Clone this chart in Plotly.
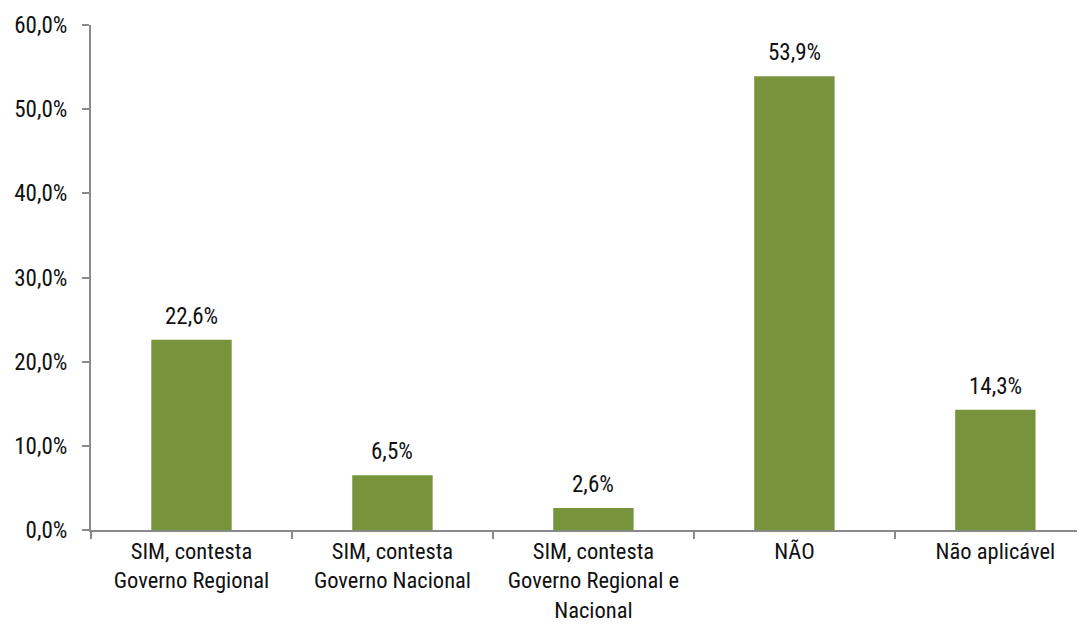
import plotly.graph_objects as go

categories = [
    "SIM, contesta<br>Governo Regional",
    "SIM, contesta<br>Governo Nacional",
    "SIM, contesta<br>Governo Regional e<br>Nacional",
    "NÃO",
    "Não aplicável",
]
values = [22.6, 6.5, 2.6, 53.9, 14.3]
labels = [f"{v:.1f}".replace(".", ",") + "%" for v in values]
y_ticks = [0, 10, 20, 30, 40, 50, 60]
y_tick_text = [f"{v:.1f}".replace(".", ",") + "%" for v in y_ticks]

FONT = "Roboto Condensed, Liberation Sans Narrow, Arial Narrow, Liberation Sans, sans-serif"
FS = 23
AXIS = "#898989"

fig = go.Figure()
fig.add_trace(go.Bar(
    x=categories, y=values, width=0.4,
    marker=dict(color="#77933C", line=dict(width=0)),
    hoverinfo="skip",
))
for c, v, t in zip(categories, values, labels):
    fig.add_annotation(x=c, y=v, text=t, showarrow=False, yanchor="bottom",
                       yshift=8, font=dict(family=FONT, size=FS, color="#111111"))

# page body has an 8px margin, so the figure is offset by 8px
fig.update_layout(
    width=1077, height=618,
    margin=dict(l=83, r=0, t=17, b=96, autoexpand=False),
    paper_bgcolor="white", plot_bgcolor="white",
    showlegend=False,
    font=dict(family=FONT, size=FS, color="#111111"),
)
fig.update_xaxes(
    type="category", range=[-0.5, 4.446], automargin=False,
    showline=True, linecolor=AXIS, linewidth=2,
    ticks="outside", tickson="boundaries", ticklen=7, tickcolor=AXIS, tickwidth=2,
    showgrid=False, zeroline=False, ticklabelstandoff=0,
    tickfont=dict(family=FONT, size=22.5, color="#111111"),
)
fig.update_yaxes(
    range=[0, 60], tickvals=y_ticks, ticktext=y_tick_text, automargin=False,
    showline=True, linecolor=AXIS, linewidth=2,
    ticks="outside", ticklen=7, tickcolor=AXIS, tickwidth=2,
    showgrid=False, zeroline=False, ticklabelstandoff=10,
    tickfont=dict(family=FONT, size=FS, color="#111111"),
)
fig.write_html("out.html")
